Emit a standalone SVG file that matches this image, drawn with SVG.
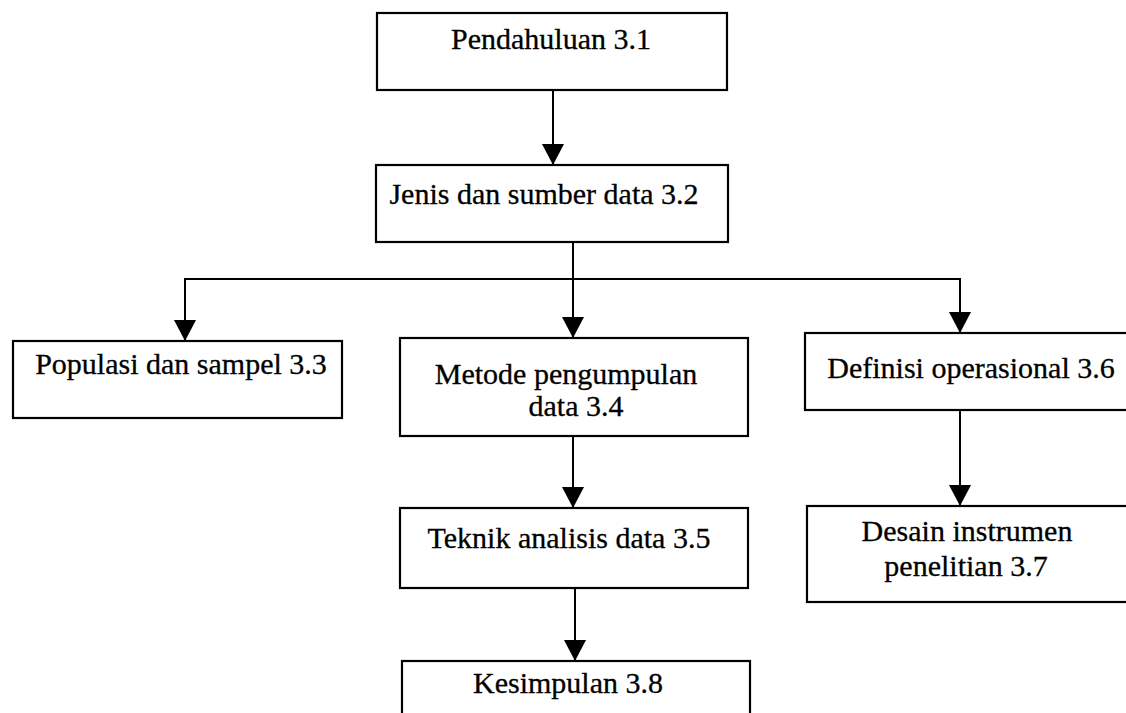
<svg xmlns="http://www.w3.org/2000/svg" width="1126" height="713" viewBox="0 0 1126 713">
  <style>
    .box { fill: #ffffff; stroke: #000000; stroke-width: 2.2; }
    .lbl { font-family: "Liberation Serif", "Times New Roman", serif; font-size: 30px; fill: #000000; stroke: #000000; stroke-width: 0.3; text-anchor: middle; }
    .wire { fill: none; stroke: #000000; stroke-width: 2; }
  </style>
  <defs>
    <!-- solid triangular arrowhead, tip at the end of the line -->
    <marker id="head" markerUnits="userSpaceOnUse" markerWidth="24" markerHeight="22" viewBox="0 0 24 22" refX="21" refY="11" orient="auto">
      <path d="M0,0 L21,11 L0,22 Z" fill="#000000"/>
    </marker>
  </defs>

  <rect width="1126" height="713" fill="#ffffff"/>

  <!-- connectors -->
  <g id="connectors">
    <line class="wire" x1="553" y1="90" x2="553" y2="165" marker-end="url(#head)"/>
    <line class="wire" x1="573" y1="242" x2="573" y2="279"/>
    <line class="wire" x1="185" y1="279" x2="960" y2="279"/>
    <line class="wire" x1="185" y1="278" x2="185" y2="341" marker-end="url(#head)"/>
    <line class="wire" x1="573" y1="278" x2="573" y2="338" marker-end="url(#head)"/>
    <line class="wire" x1="960" y1="278" x2="960" y2="333" marker-end="url(#head)"/>
    <line class="wire" x1="573" y1="436" x2="573" y2="508" marker-end="url(#head)"/>
    <line class="wire" x1="575" y1="588" x2="575" y2="661" marker-end="url(#head)"/>
    <line class="wire" x1="960" y1="410" x2="960" y2="506" marker-end="url(#head)"/>
  </g>

  <!-- nodes -->
  <g id="n31">
    <rect class="box" x="377" y="13" width="350" height="77"/>
    <text class="lbl" x="551" y="49">Pendahuluan 3.1</text>
  </g>
  <g id="n32">
    <rect class="box" x="376" y="165" width="352" height="77"/>
    <text class="lbl" x="544" y="204">Jenis dan sumber data 3.2</text>
  </g>
  <g id="n33">
    <rect class="box" x="13" y="341" width="329" height="77"/>
    <text class="lbl" x="181" y="374">Populasi dan sampel 3.3</text>
  </g>
  <g id="n34">
    <rect class="box" x="400" y="338" width="348" height="98"/>
    <text class="lbl" x="566" y="384">Metode pengumpulan</text>
    <text class="lbl" x="576" y="416">data 3.4</text>
  </g>
  <g id="n35">
    <rect class="box" x="400" y="508" width="348" height="80"/>
    <text class="lbl" x="569" y="548">Teknik analisis data 3.5</text>
  </g>
  <g id="n38">
    <rect class="box" x="402" y="661" width="348" height="70"/>
    <text class="lbl" x="568" y="693">Kesimpulan 3.8</text>
  </g>
  <g id="n36">
    <rect class="box" x="805" y="333" width="335" height="77"/>
    <text class="lbl" x="971" y="378">Definisi operasional 3.6</text>
  </g>
  <g id="n37">
    <rect class="box" x="807" y="506" width="333" height="96"/>
    <text class="lbl" x="967" y="541">Desain instrumen</text>
    <text class="lbl" x="966" y="576">penelitian 3.7</text>
  </g>
</svg>
